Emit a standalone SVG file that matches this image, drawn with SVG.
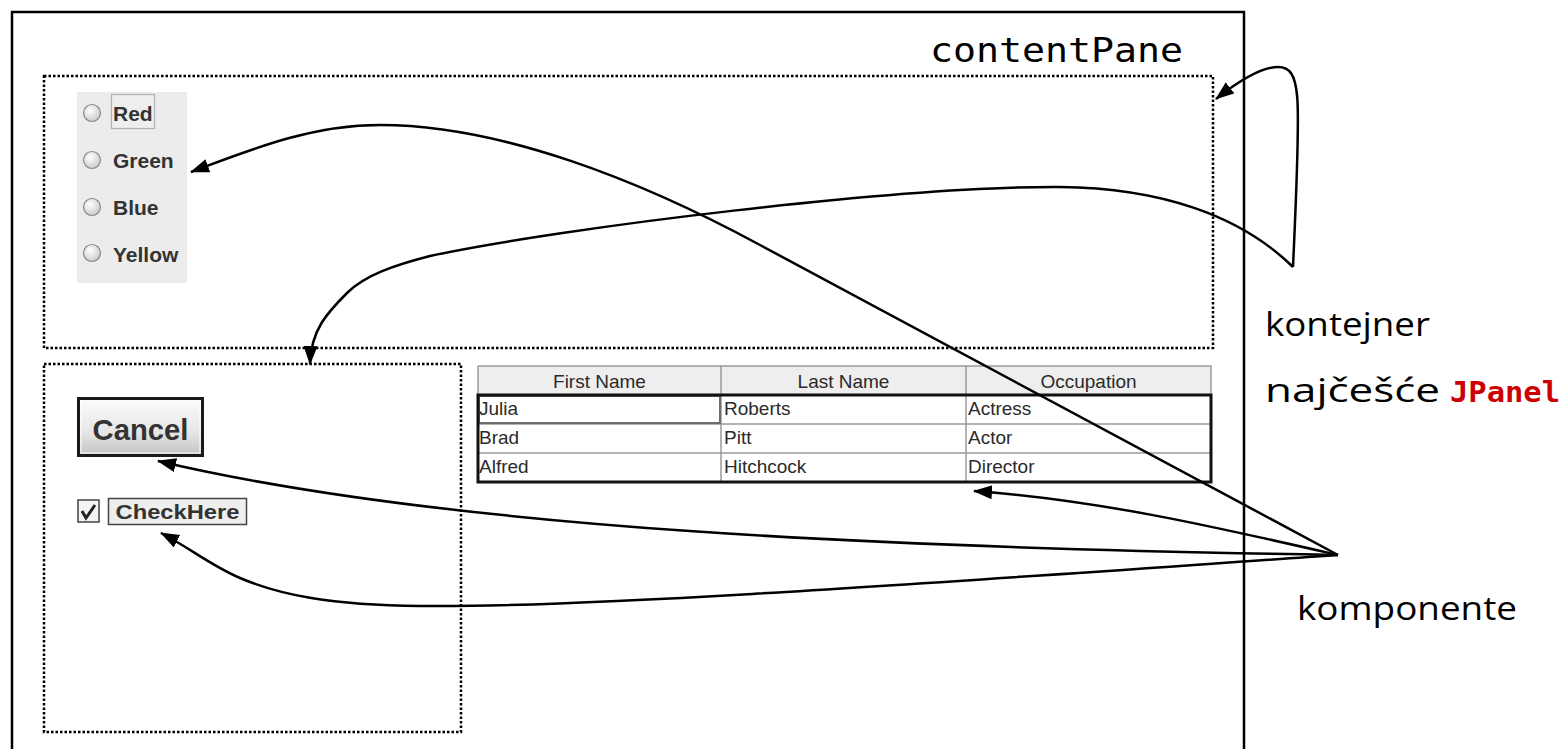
<svg xmlns="http://www.w3.org/2000/svg" width="1568" height="749" viewBox="0 0 1568 749">
  <style>
    .frame { fill: none; stroke: #000; stroke-width: 2.5; }
    .panel { fill: none; stroke: #000; stroke-width: 2.5; stroke-dasharray: 2.5 2; }
    .link { fill: none; stroke: #000; stroke-width: 2.5; marker-end: url(#head); }
    .swing { font-family: "Liberation Sans", Arial, sans-serif; fill: #333; }
    .bold { font-weight: bold; }
    .radio { fill: url(#radioFill); stroke: #8a8a8a; stroke-width: 1.2; }
    .grid { stroke: #9a9a9a; stroke-width: 1.5; fill: none; }
    .cell { font-size: 19px; fill: #2a2a2a; }
    .label { font-family: "Open Sans", Lato, sans-serif; font-size: 33px; fill: #000; }
    .mono { font-family: "DejaVu Sans Mono", "Liberation Mono", monospace; }
  </style>
  <defs>
    <marker id="head" markerUnits="userSpaceOnUse" markerWidth="20" markerHeight="16" refX="18" refY="7" orient="auto">
      <path d="M0,0 L19,7 L0,14 z" fill="#000"/>
    </marker>
    <radialGradient id="radioFill" cx="0.4" cy="0.35" r="0.7">
      <stop offset="0" stop-color="#ffffff"/>
      <stop offset="1" stop-color="#c8c8c8"/>
    </radialGradient>
    <linearGradient id="btnFill" x1="0" y1="0" x2="0" y2="1">
      <stop offset="0" stop-color="#fafafa"/>
      <stop offset="0.6" stop-color="#e6e6e6"/>
      <stop offset="1" stop-color="#c4c4c4"/>
    </linearGradient>
  </defs>

  <rect width="1568" height="749" fill="#fff"/>

  <!-- content pane frame -->
  <g id="contentPane">
    <path class="frame" d="M12,760 L12,12 L1244,12 L1244,760"/>
    <text class="mono" x="930" y="62" font-size="34" textLength="253" lengthAdjust="spacingAndGlyphs" fill="#000">contentPane</text>
  </g>

  <!-- upper panel holding the radio group -->
  <g id="panelTop">
    <rect class="panel" x="44" y="76" width="1169" height="272"/>
  </g>

  <g id="radioGroup" class="swing bold" font-size="21">
    <rect x="77" y="92" width="110" height="191" fill="#ececec"/>
    <rect x="111.5" y="94.5" width="43" height="34" fill="#eeeeee" stroke="#b0b0b0" stroke-width="1.2"/>
    <circle class="radio" cx="92" cy="113" r="8.5"/>
    <text x="113" y="121">Red</text>
    <circle class="radio" cx="92" cy="160" r="8.5"/>
    <text x="113" y="168">Green</text>
    <circle class="radio" cx="92" cy="207" r="8.5"/>
    <text x="113" y="215">Blue</text>
    <circle class="radio" cx="92" cy="253" r="8.5"/>
    <text x="113" y="262">Yellow</text>
  </g>

  <!-- lower-left panel -->
  <g id="panelBottom">
    <rect class="panel" x="44" y="364" width="417" height="368"/>
  </g>

  <g id="cancelButton" class="swing bold">
    <rect x="77" y="397" width="127" height="60" fill="#1a1a1a"/>
    <rect x="80" y="400" width="121" height="54" fill="url(#btnFill)"/>
    <rect x="81" y="401" width="119" height="52" fill="none" stroke="#ffffff" stroke-width="1"/>
    <text x="140.5" y="440" font-size="30" text-anchor="middle" textLength="96" lengthAdjust="spacingAndGlyphs" fill="#333">Cancel</text>
  </g>

  <g id="checkBox" class="swing bold">
    <rect x="78" y="500" width="21" height="22" fill="#f4f4f4" stroke="#444" stroke-width="1.5"/>
    <path d="M82,511 L86,518 L95,505" fill="none" stroke="#222" stroke-width="3"/>
    <rect x="108.5" y="498.5" width="138" height="26" fill="#eeeeee" stroke="#444" stroke-width="1.5"/>
    <text x="177.5" y="519" font-size="21" text-anchor="middle" textLength="124" lengthAdjust="spacingAndGlyphs">CheckHere</text>
  </g>

  <!-- table with header and three rows -->
  <g id="table" class="swing">
    <rect x="478" y="366" width="733" height="29" fill="#eeeeee"/>
    <rect x="478" y="395" width="733" height="87" fill="#ffffff"/>
    <path class="grid" d="M478,366 L1211,366 L1211,395 M478,366 L478,395 M721,366 L721,482 M966,366 L966,482 M478,424 L1211,424 M478,453 L1211,453"/>
    <rect x="479" y="396" width="241" height="27" fill="none" stroke="#6e6e6e" stroke-width="2"/>
    <rect x="478" y="395" width="733" height="87" fill="none" stroke="#111" stroke-width="3"/>
    <g class="cell" text-anchor="middle">
      <text x="599.5" y="388">First Name</text>
      <text x="843.5" y="388">Last Name</text>
      <text x="1088.5" y="388">Occupation</text>
    </g>
    <g class="cell">
      <text x="479" y="415">Julia</text>
      <text x="724" y="415">Roberts</text>
      <text x="968" y="415">Actress</text>
      <text x="479" y="444">Brad</text>
      <text x="724" y="444">Pitt</text>
      <text x="968" y="444">Actor</text>
      <text x="479" y="473">Alfred</text>
      <text x="724" y="473">Hitchcock</text>
      <text x="968" y="473">Director</text>
    </g>
  </g>

  <!-- side labels -->
  <g id="containerLabel">
    <text class="label" x="1265" y="336" textLength="165" lengthAdjust="spacingAndGlyphs">kontejner</text>
    <text class="label" x="1265" y="402" textLength="175" lengthAdjust="spacingAndGlyphs">najčešće</text>
    <text class="mono" x="1450" y="402" font-size="28" font-weight="bold" fill="#cc0000" textLength="110" lengthAdjust="spacingAndGlyphs">JPanel</text>
  </g>
  <g id="componentLabel">
    <text class="label" x="1297" y="620" textLength="220" lengthAdjust="spacingAndGlyphs">komponente</text>
  </g>

  <!-- connectors -->
  <g id="connectors">
    <!-- container label to the two panels -->
    <path class="link" d="M1293,267 C1296,200 1300,120 1297,95 C1295,75 1290,67 1278,67 C1262,67 1240,80 1216,99"/>
    <path class="link" d="M1293,267 C1240,215 1160,188 1060,187 C900,186 560,228 430,256 C395,265 365,275 347,293 C327,313 311,330 310,364"/>
    <!-- component label to each component -->
    <path class="link" d="M1338,555 L760,245 C640,180 500,125 380,125 C310,125 250,150 191,172"/>
    <path class="link" d="M1338,555 C900,548 450,530 158,461"/>
    <path class="link" d="M1338,555 C1000,578 600,608 420,606 C330,605 280,595 240,578 C210,565 190,548 161,533"/>
    <path class="link" d="M1338,555 C1220,528 1100,500 974,491"/>
  </g>
</svg>
